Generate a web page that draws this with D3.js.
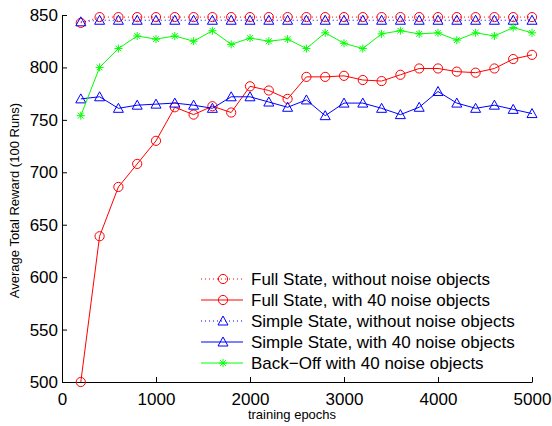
<!DOCTYPE html>
<html>
<head>
<meta charset="utf-8">
<script src="https://cdn.jsdelivr.net/npm/d3@7"></script>
<style>
  body { margin: 0; background: #fff; }
  svg { display: block; font-family: "Liberation Sans", Arial, Helvetica, sans-serif; }
</style>
</head>
<body>
<div id="chart"></div>
<script>
// values

var epochs = [200, 400, 600, 800, 1000, 1200, 1400, 1600, 1800, 2000, 2200, 2400, 2600,
              2800, 3000, 3200, 3400, 3600, 3800, 4000, 4200, 4400, 4600, 4800, 5000];

var fullNoNoise = [842.5, 848, 848, 848, 848, 848, 848, 848, 848, 848, 848, 848, 848,
                   848, 848, 848, 848, 848, 848, 848, 848, 848, 848, 848, 848];

var fullNoise = [500, 639, 686, 708, 730, 762, 755, 763, 757, 782, 778, 770, 791,
                 791, 792, 788, 787, 793, 799, 799, 796, 795, 799, 808, 812];

var simpleNoNoise = [843.5, 845, 845, 845, 845, 845, 845, 845, 845, 845, 845, 845, 845,
                     845, 845, 845, 845, 845, 845, 845, 845, 845, 845, 845, 845];

var simpleNoise = [770, 772, 761, 764, 765, 766, 764, 761, 772, 772, 767, 762, 769,
                   754, 766, 766, 761, 755, 762, 777, 766, 761, 764, 760, 756];

var backOff = [754, 800, 818, 830, 827, 830, 825, 835, 822, 828, 825, 827, 818,
               833, 823, 818, 832, 835, 832, 833, 826, 833, 830, 838, 833];

var seriesNames = ["Full State, without noise objects", "Full State, with 40 noise objects",
                   "Simple State, without noise objects", "Simple State, with 40 noise objects",
                   "Back\u2212Off with 40 noise objects"];

var xTicks = [0, 1000, 2000, 3000, 4000, 5000];
var yTicks = [500, 550, 600, 650, 700, 750, 800, 850];

// layout

var margin = {top: 15, right: 20, bottom: 44, left: 62},
    width = 552 - margin.left - margin.right,
    height = 426 - margin.top - margin.bottom;

var series = [
  {name: seriesNames[0], values: fullNoNoise, color: "#ff0000", dash: "1,3", marker: "circle"},
  {name: seriesNames[1], values: fullNoise, color: "#ff0000", dash: null, marker: "circle"},
  {name: seriesNames[2], values: simpleNoNoise, color: "#0000ff", dash: "1,3", marker: "triangle"},
  {name: seriesNames[3], values: simpleNoise, color: "#0000ff", dash: null, marker: "triangle"},
  {name: seriesNames[4], values: backOff, color: "#00ff00", dash: null, marker: "star"}
];

var xScale = d3.scaleLinear().domain([0, 5000]).range([0, width]);
var yScale = d3.scaleLinear().domain([500, 850]).range([height, 0]);

var svg = d3.select("#chart").append("svg")
  .attr("width", 552)
  .attr("height", 426);

var g = svg.append("g")
  .attr("transform", "translate(" + margin.left + "," + margin.top + ")");

// axes (matlab style, ticks inside, no box)

var xAxis = g.append("g")
  .attr("class", "x axis")
  .attr("transform", "translate(0," + height + ")")
  .call(d3.axisBottom(xScale).tickValues(xTicks).tickFormat(d3.format("d"))
    .tickSize(-5).tickPadding(11).tickSizeOuter(0));

var yAxis = g.append("g")
  .attr("class", "y axis")
  .call(d3.axisLeft(yScale).tickValues(yTicks).tickFormat(d3.format("d"))
    .tickSize(-5).tickPadding(4).tickSizeOuter(0));

svg.selectAll(".axis text")
  .style("font-size", "17px")
  .style("fill", "#000")
  .style("font-family", "'Liberation Sans', Arial, sans-serif");
svg.selectAll(".axis path, .axis line").attr("stroke", "#000");

// axis titles
g.append("text")
  .attr("x", xScale(2500) - 5)
  .attr("y", height + 37)
  .attr("text-anchor", "middle")
  .style("font-size", "13px")
  .text("training epochs");

g.append("text")
  .attr("transform", "translate(" + (-43) + "," + (height / 2 + 2) + ") rotate(-90)")
  .attr("text-anchor", "middle")
  .style("font-size", "13px")
  .text("Average Total Reward (100 Runs)");

// markers

function drawMarker(sel, type, color) {
  if (type === "circle") {
    sel.append("circle").attr("r", 4.6)
      .attr("fill", "none").attr("stroke", color).attr("stroke-width", 1);
  } else if (type === "triangle") {
    sel.append("path").attr("d", "M0,-5L5,4L-5,4Z")
      .attr("fill", "none").attr("stroke", color).attr("stroke-width", 1);
  } else {
    sel.append("path").attr("d", "M-4,0L4,0M0,-4L0,4M-2.9,-2.9L2.9,2.9M-2.9,2.9L2.9,-2.9")
      .attr("fill", "none").attr("stroke", color).attr("stroke-width", 1);
  }
}

var line = d3.line()
  .x(function(d, i) { return xScale(epochs[i]); })
  .y(function(d) { return yScale(d); });

series.forEach(function(s) {
  var sg = g.append("g").attr("class", "series");
  sg.append("path")
    .datum(s.values)
    .attr("d", line)
    .attr("fill", "none")
    .attr("stroke", s.color)
    .attr("stroke-width", 1)
    .attr("stroke-dasharray", s.dash);
  sg.selectAll(".pt")
    .data(s.values)
    .enter().append("g")
    .attr("class", "pt")
    .attr("transform", function(d, i) { return "translate(" + xScale(epochs[i]) + "," + yScale(d) + ")"; })
    .each(function() { drawMarker(d3.select(this), s.marker, s.color); });
});

// legend

var legend = svg.append("g").attr("transform", "translate(201,279)");
series.forEach(function(s, i) {
  var row = legend.append("g").attr("transform", "translate(0," + (i * 21) + ")");
  row.append("line")
    .attr("x1", 0).attr("x2", 42).attr("y1", 0).attr("y2", 0)
    .attr("stroke", s.color).attr("stroke-width", 1)
    .attr("stroke-dasharray", s.dash);
  var m = row.append("g").attr("transform", "translate(22,0)");
  drawMarker(m, s.marker, s.color);
  row.append("text")
    .attr("x", 50).attr("y", 0).attr("dy", "0.35em")
    .style("font-size", "17px")
    .text(s.name);
});
</script>
</body>
</html>
